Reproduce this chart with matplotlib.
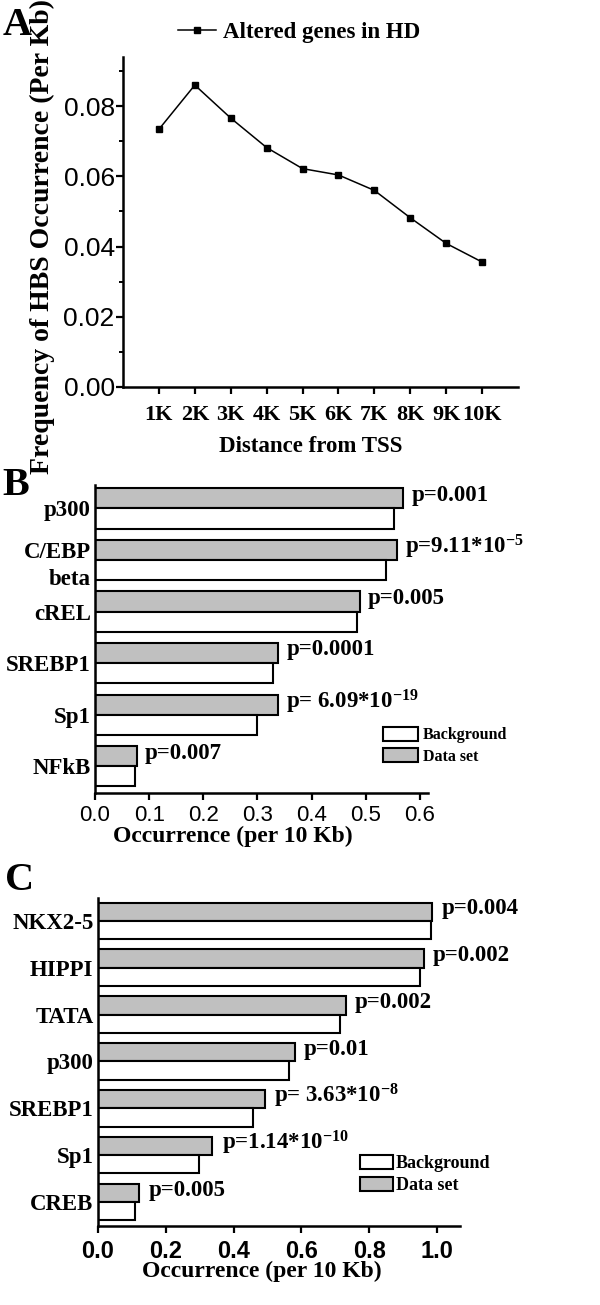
import matplotlib
matplotlib.use("Agg")
import matplotlib.pyplot as plt
from matplotlib.ticker import MultipleLocator

# panel A data
distance_labels = ["1K", "2K", "3K", "4K", "5K", "6K", "7K", "8K", "9K", "10K"]
hbs_freq = [0.0734, 0.0860, 0.0766, 0.0682, 0.0622, 0.0604, 0.0560, 0.0482, 0.0409, 0.0356]

# panel B data
b_factors = ["p300", "C/EBP\nbeta", "cREL", "SREBP1", "Sp1", "NFkB"]
b_dataset = [0.569, 0.558, 0.489, 0.338, 0.338, 0.077]
b_background = [0.552, 0.537, 0.483, 0.328, 0.300, 0.073]
b_pvalues = ["p=0.001", "p=9.11*10$^{-5}$", "p=0.005", "p=0.0001",
             "p= 6.09*10$^{-19}$", "p=0.007"]

# panel C data
c_factors = ["NKX2-5", "HIPPI", "TATA", "p300", "SREBP1", "Sp1", "CREB"]
c_dataset = [0.986, 0.961, 0.731, 0.581, 0.494, 0.338, 0.122]
c_background = [0.981, 0.949, 0.713, 0.564, 0.458, 0.299, 0.110]
c_pvalues = ["p=0.004", "p=0.002", "p=0.002", "p=0.01",
             "p= 3.63*10$^{-8}$", "p=1.14*10$^{-10}$", "p=0.005"]

plt.rcParams['mathtext.fontset'] = 'custom'
plt.rcParams['mathtext.rm'] = 'Liberation Serif:bold'
plt.rcParams['mathtext.it'] = 'Liberation Serif:bold'
plt.rcParams['mathtext.bf'] = 'Liberation Serif:bold'

SERIF = 'Liberation Serif'
SANS = 'Liberation Sans'
GREY = '#c0c0c0'
W, H = 600.0, 1305.0


def box(l, t, r, b):
    # pixel box -> figure rect
    return [l / W, 1 - b / H, (r - l) / W, (b - t) / H]


def style_axes(ax):
    for s in ['top', 'right']:
        ax.spines[s].set_visible(False)
    for s in ['left', 'bottom']:
        ax.spines[s].set_linewidth(1.8)


def bar_panel(ax, factors, dataset, background, pvals, ylim, xlim, xstep,
              label_size, tick_kw):
    h = 0.39
    y = list(range(len(factors)))
    ax.barh([v - h / 2 for v in y], dataset, height=h, color=GREY,
            edgecolor='black', linewidth=1.5, label='Data set')
    ax.barh([v + h / 2 for v in y], background, height=h, color='white',
            edgecolor='black', linewidth=1.5, label='Background')
    for yi, v, p in zip(y, dataset, pvals):
        ax.text(v + 0.025 * xlim, yi - h / 2 - 0.06, p, family=SERIF,
                weight='bold', fontsize=16.5, va='center', ha='left')
    ax.set_ylim(*ylim)
    ax.set_xlim(0, xlim)
    ax.set_yticks(y)
    ax.set_yticklabels(factors, family=SERIF, weight='bold', fontsize=label_size,
                       linespacing=1.4)
    ax.tick_params(axis='y', length=0, pad=3)
    ax.xaxis.set_major_locator(MultipleLocator(xstep))
    ax.tick_params(axis='x', direction='out', length=5, width=1.6, **tick_kw)
    style_axes(ax)


fig = plt.figure(figsize=(6, 13.05), dpi=100)

# ---------------- A ----------------
axA = fig.add_axes(box(123, 57, 518, 387))
xs = list(range(1, len(hbs_freq) + 1))
axA.plot(xs, hbs_freq, color='black', lw=1.1, marker='s', ms=4,
         label='Altered genes in HD')
axA.set_xlim(0, 11)
axA.set_ylim(0, 0.094)
axA.set_xticks(xs)
axA.set_xticklabels(distance_labels, family=SERIF, weight='bold', fontsize=16)
axA.yaxis.set_minor_locator(MultipleLocator(0.01))
axA.set_yticks([0, 0.02, 0.04, 0.06, 0.08])
axA.set_yticklabels(["0.00", "0.02", "0.04", "0.06", "0.08"], family=SANS, fontsize=19)
axA.tick_params(axis='x', direction='out', length=5, width=1.6, pad=8)
axA.tick_params(axis='y', which='major', direction='out', length=5, width=1.6, pad=1)
axA.tick_params(axis='y', which='minor', direction='out', length=3, width=1.4)
style_axes(axA)
axA.set_xlabel("Distance from TSS", family=SERIF, weight='bold', fontsize=16.5)
axA.xaxis.set_label_coords(0.476, -0.15)
axA.set_ylabel("Frequency of HBS Occurrence (Per Kb)", family=SERIF,
               weight='bold', fontsize=20)
axA.yaxis.set_label_coords(-0.172, 0.455)
axA.legend(loc='center left', bbox_to_anchor=(178 / W, 1 - 32.7 / H),
           bbox_transform=fig.transFigure, frameon=False, borderpad=0,
           borderaxespad=0, handlelength=1.67, handletextpad=0.3,
           prop={'family': SERIF, 'weight': 'bold', 'size': 16.5})

# ---------------- B ----------------
axB = fig.add_axes(box(95, 485, 428, 793))
bar_panel(axB, b_factors, b_dataset, b_background, b_pvalues,
          (5.52, -0.455), 0.615, 0.1, 16.5, {'pad': 3.5})
for lab in axB.get_xticklabels():
    lab.set_family(SANS)
    lab.set_fontsize(16)
axB.set_xlabel("Occurrence (per 10 Kb)", family=SERIF, weight='bold', fontsize=17)
axB.xaxis.set_label_coords(0.414, -0.105)
hB, lB = axB.get_legend_handles_labels()
axB.legend(hB[::-1], lB[::-1], loc='upper left',
           bbox_to_anchor=(383 / W, 1 - 727 / H), bbox_transform=fig.transFigure,
           frameon=False, borderpad=0, borderaxespad=0, handlelength=2.2,
           handleheight=0.95, handletextpad=0.3, labelspacing=0.3,
           prop={'family': SERIF, 'weight': 'bold', 'size': 11.5})

# ---------------- C ----------------
axC = fig.add_axes(box(97.7, 898, 460, 1226))
bar_panel(axC, c_factors, c_dataset, c_background, c_pvalues,
          (6.51, -0.486), 1.067, 0.2, 16.5, {'pad': 5})
for lab in axC.get_xticklabels():
    lab.set_family(SANS)
    lab.set_weight('bold')
    lab.set_fontsize(17)
axC.set_xlabel("Occurrence (per 10 Kb)", family=SERIF, weight='bold', fontsize=17)
axC.xaxis.set_label_coords(0.454, -0.105)
hC, lC = axC.get_legend_handles_labels()
axC.legend(hC[::-1], lC[::-1], loc='upper left',
           bbox_to_anchor=(360 / W, 1 - 1155 / H), bbox_transform=fig.transFigure,
           frameon=False, borderpad=0, borderaxespad=0, handlelength=1.8,
           handleheight=0.85, handletextpad=0.17, labelspacing=0.25,
           prop={'family': SERIF, 'weight': 'bold', 'size': 13})

# panel letters
for letter, px, py in [("A", 3, 35), ("B", 2, 495), ("C", 5, 890)]:
    fig.text(px / W, 1 - py / H, letter, family=SERIF, weight='bold',
             fontsize=29, va='baseline', ha='left')

fig.savefig("out.png", dpi=100)
